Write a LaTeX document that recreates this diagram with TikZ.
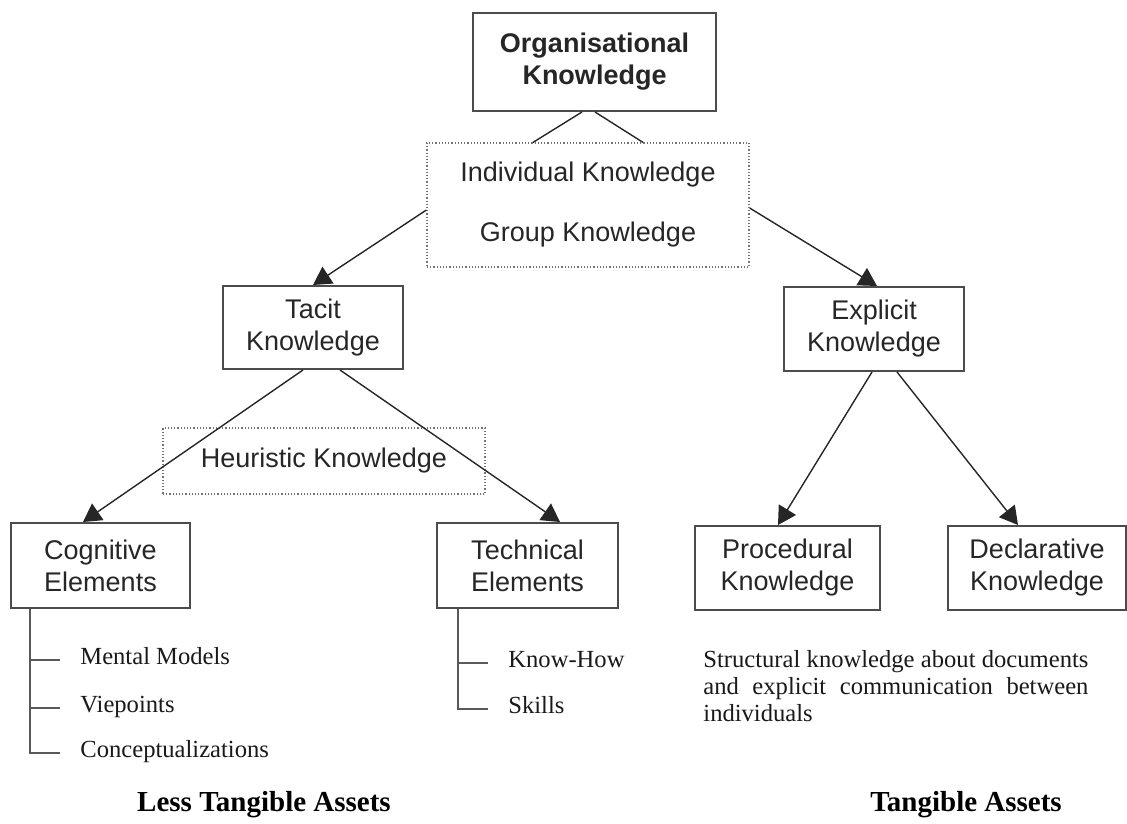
\documentclass[tikz,border=0pt]{standalone}
\usepackage{fontspec}
\setmainfont{Liberation Serif}
\newfontfamily\boxfont{Liberation Sans}
\usetikzlibrary{arrows.meta,calc}

\begin{document}
\begin{tikzpicture}[x=0.5pt,y=-0.5pt,
  kbox/.style={draw=black!70, line width=1pt, align=center, inner sep=0pt,
    font=\boxfont\fontsize{13.5}{16}\selectfont, text=black!85},
  dotbox/.style={draw=black!55, line width=0.6pt, densely dotted, align=center,
    inner sep=0pt, font=\boxfont\fontsize{13.5}{16}\selectfont, text=black!85},
  link/.style={draw=black!85, line width=0.7pt},
  arrowlink/.style={link, -{Triangle[length=9pt,width=10pt]}},
  branch/.style={draw=black!65, line width=1pt},
  leaf/.style={anchor=west, inner sep=0pt, font=\fontsize{12.3}{14}\selectfont,
    text height=0.66em, text depth=0.22em, text=black!90},
  asset/.style={inner sep=0pt, font=\bfseries\fontsize{14.5}{17}\selectfont}
]
\useasboundingbox (0,0) rectangle (1127,823);

% knowledge boxes
\node[kbox, font=\boxfont\bfseries\fontsize{13.5}{16}\selectfont,
      minimum width=121.5pt, minimum height=49pt] (org) at (594.5,62)
      {Organisational\\Knowledge};
\node[dotbox, font=\boxfont\fontsize{13.5}{30}\selectfont,
      minimum width=161pt, minimum height=62pt] (ig) at (588,205)
      {Individual Knowledge\\Group Knowledge};
\node[kbox, minimum width=90pt, minimum height=41.5pt] (tacit) at (313,327.5)
      {Tacit\\Knowledge};
\node[kbox, minimum width=90pt, minimum height=42pt] (explicit) at (874,329)
      {Explicit\\Knowledge};
\node[dotbox, minimum width=161pt, minimum height=33pt] (heur) at (324,461)
      {Heuristic Knowledge};
\node[kbox, minimum width=89.5pt, minimum height=42.5pt] (cog) at (100.5,565.5)
      {Cognitive\\Elements};
\node[kbox, minimum width=90.5pt, minimum height=42.5pt] (tech) at (527.5,565.5)
      {Technical\\Elements};
\node[kbox, minimum width=92.5pt, minimum height=42pt] (proc) at (787.5,568)
      {Procedural\\Knowledge};
\node[kbox, minimum width=89pt, minimum height=42pt] (decl) at (1037,568)
      {Declarative\\Knowledge};

% connectors
\draw[link] ($(org.south)+(-12.5,0)$) -- ($(ig.north)+(-55,0)$);
\draw[link] ($(org.south)+(0.5,0)$) -- ($(ig.north)+(55,0)$);
\draw[arrowlink] ($(ig.west)+(0,5)$) -- (tacit.north);
\draw[arrowlink] ($(ig.east)+(0,3)$) -- ($(explicit.north)+(3,0)$);
\draw[arrowlink] ($(tacit.south)+(-10,0)$) -- ($(cog.north)+(-17.5,0)$);
\draw[arrowlink] ($(tacit.south)+(27,0)$) -- ($(tech.north)+(32.5,0)$);
\draw[arrowlink] ($(explicit.south)+(-2,0)$) -- ($(proc.north)+(-9.5,0)$);
\draw[arrowlink] ($(explicit.south)+(23,0)$) -- ($(decl.north)+(-19,0)$);

% cognitive elements list
\coordinate (cogroot) at ($(cog.south west)+(20,0)$);
\node[leaf] (mm) at (80,660) {Mental Models};
\node[leaf] (vp) at (80,708) {Viepoints};
\node[leaf] (cz) at (80,753) {Conceptualizations};
\draw[branch] (cogroot) |- ($(cz.west)+(-20,0)$);
\draw[branch] (cogroot |- mm.west) -- ($(mm.west)+(-20,0)$);
\draw[branch] (cogroot |- vp.west) -- ($(vp.west)+(-20,0)$);

% technical elements list
\coordinate (techroot) at ($(tech.south west)+(22,0)$);
\node[leaf] (kh) at (508,663) {Know-How};
\node[leaf] (sk) at (508,709) {Skills};
\draw[branch] (techroot) |- ($(sk.west)+(-20,0)$);
\draw[branch] (techroot |- kh.west) -- ($(kh.west)+(-20,0)$);

% explicit knowledge note
\node[anchor=north west, inner sep=0pt, align=left, text=black!90,
      font=\fontsize{12.3}{13.5}\selectfont] (note) at (703,650)
  {\makebox[192.5pt][s]{Structural knowledge about documents}\\
   \makebox[192.5pt][s]{and explicit communication between}\\
   individuals};

% asset labels
\node[asset] (less) at (264,805) {Less Tangible Assets};
\node[asset] (tang) at (966,805) {Tangible Assets};
\end{tikzpicture}
\end{document}
